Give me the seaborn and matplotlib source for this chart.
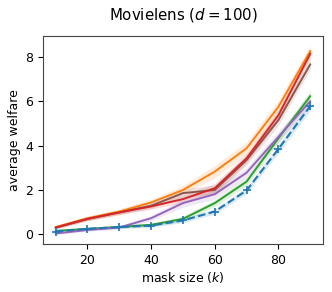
import numpy as np
import pandas as pd
import matplotlib
matplotlib.use("Agg")
import matplotlib.pyplot as plt
import seaborn as sns

# mask sizes
k = [10, 20, 30, 40, 50, 60, 70, 80, 90]

# mean welfare per method
blue   = [0.13, 0.25, 0.33, 0.40, 0.63, 1.03, 1.98, 3.85, 5.78]
orange = [0.33, 0.73, 1.03, 1.44, 2.00, 2.83, 3.88, 5.75, 8.26]
green  = [0.16, 0.25, 0.34, 0.43, 0.70, 1.41, 2.38, 4.33, 6.23]
red    = [0.31, 0.70, 0.99, 1.26, 1.59, 2.08, 3.43, 5.37, 8.14]
purple = [0.04, 0.20, 0.31, 0.73, 1.41, 1.81, 2.78, 4.40, 6.00]
brown  = [0.30, 0.69, 0.99, 1.29, 1.86, 2.00, 3.35, 5.15, 7.66]

# half widths of the shaded bands
blue_sd   = [0.06, 0.06, 0.06, 0.08, 0.10, 0.12, 0.15, 0.18, 0.20]
orange_sd = [0.08, 0.10, 0.12, 0.15, 0.20, 0.28, 0.28, 0.30, 0.25]
green_sd  = [0.05, 0.06, 0.06, 0.08, 0.12, 0.15, 0.18, 0.20, 0.25]
red_sd    = [0.06, 0.08, 0.10, 0.12, 0.18, 0.22, 0.22, 0.25, 0.22]
purple_sd = [0.05, 0.06, 0.08, 0.12, 0.18, 0.22, 0.22, 0.25, 0.22]
brown_sd  = [0.06, 0.08, 0.10, 0.12, 0.18, 0.22, 0.22, 0.25, 0.22]

sns.set_style("white")
plt.rcParams['font.family'] = ['DejaVu Sans']

fig, ax = plt.subplots(figsize=(3.32, 2.92), dpi=100)
fig.subplots_adjust(left=0.129, right=0.973, top=0.877, bottom=0.164)

series = [
    (orange, orange_sd, "tab:orange"),
    (green, green_sd, "tab:green"),
    (purple, purple_sd, "tab:purple"),
    (brown, brown_sd, "tab:brown"),
    (red, red_sd, "tab:red"),
]
for vals, sd, col in series:
    df = pd.DataFrame({"k": k, "w": vals})
    sns.lineplot(data=df, x="k", y="w", color=col, lw=1.4, ax=ax)
    ax.fill_between(k, np.array(vals) - np.array(sd), np.array(vals) + np.array(sd),
                    color=col, alpha=0.15, lw=0)

df = pd.DataFrame({"k": k, "w": blue})
sns.lineplot(data=df, x="k", y="w", color="tab:blue", lw=1.5, ls="--",
             marker="+", markersize=6, markeredgewidth=1.2,
             markeredgecolor="tab:blue", ax=ax)
ax.fill_between(k, np.array(blue) - np.array(blue_sd), np.array(blue) + np.array(blue_sd),
                color="tab:blue", alpha=0.15, lw=0)

ax.set_xticks([20, 40, 60, 80])
ax.set_yticks([0, 2, 4, 6, 8])
ax.tick_params(axis="both", direction="out", length=3.5, width=0.8, labelsize=9,
               colors="black", bottom=True, left=True)
for s in ax.spines.values():
    s.set_color("#444444")
    s.set_linewidth(0.8)
ax.set_xlabel("mask size ($k$)", fontsize=9, color="black", labelpad=2)
ax.set_ylabel("average welfare", fontsize=9, color="black", labelpad=3)
ax.set_title("Movielens ($d = 100$)", fontsize=10.8, pad=12, color="black")

fig.savefig("out.png", dpi=100)
